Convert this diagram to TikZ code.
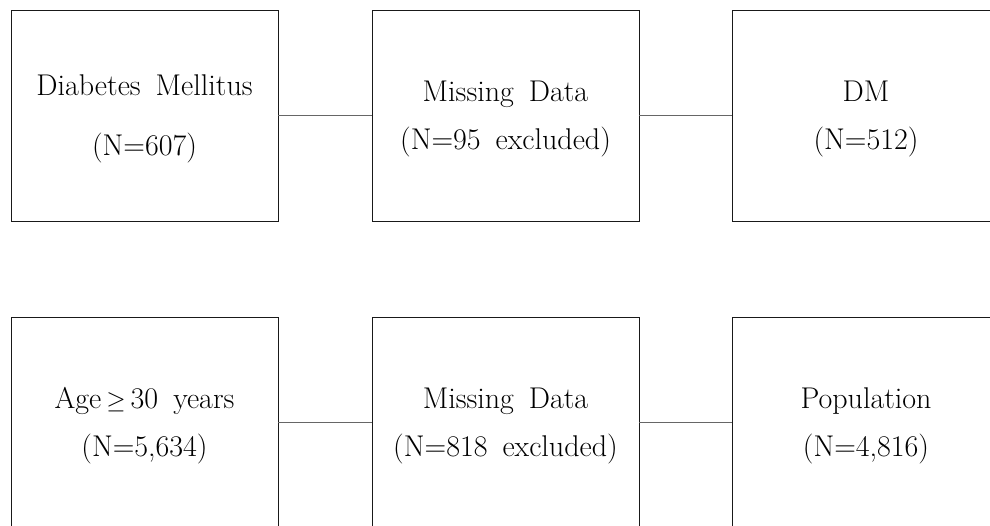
\documentclass[tikz,border=0pt]{standalone}
\usepackage{amssymb}
\newcommand\topstrut{\rule{0pt}{28pt}}
\begin{document}
\begin{tikzpicture}[x=1pt,y=-1pt,
  box/.style={draw=black!90,line width=0.9pt,minimum width=267pt,minimum height=211pt,
    inner sep=0pt,align=center,
    font={\fontsize{30}{48}\selectfont\spaceskip=0.5em\relax}},
  link/.style={draw=black!60,line width=1pt}]
\useasboundingbox (0,0) rectangle (990,525);
\clip (0,0) rectangle (990,525);
\node[box] (a1) at (144.5,115.5) {\topstrut Diabetes Mellitus\\[12pt](N=607)};
\node[box] (a2) at (505.5,115.5) {\topstrut Missing Data\\(N=95 excluded)};
\node[box] (a3) at (866,115.5) {\topstrut DM\\(N=512)};
\node[box] (b1) at (144.5,422.5) {\topstrut Age\,$\geq$\,30 years\\(N=5,634)};
\node[box] (b2) at (505.5,422.5) {\topstrut Missing Data\\(N=818 excluded)};
\node[box] (b3) at (866,422.5) {\topstrut Population\\(N=4,816)};
\draw[link] (a1) -- (a2);
\draw[link] (a2) -- (a3);
\draw[link] (b1) -- (b2);
\draw[link] (b2) -- (b3);
\end{tikzpicture}
\end{document}
